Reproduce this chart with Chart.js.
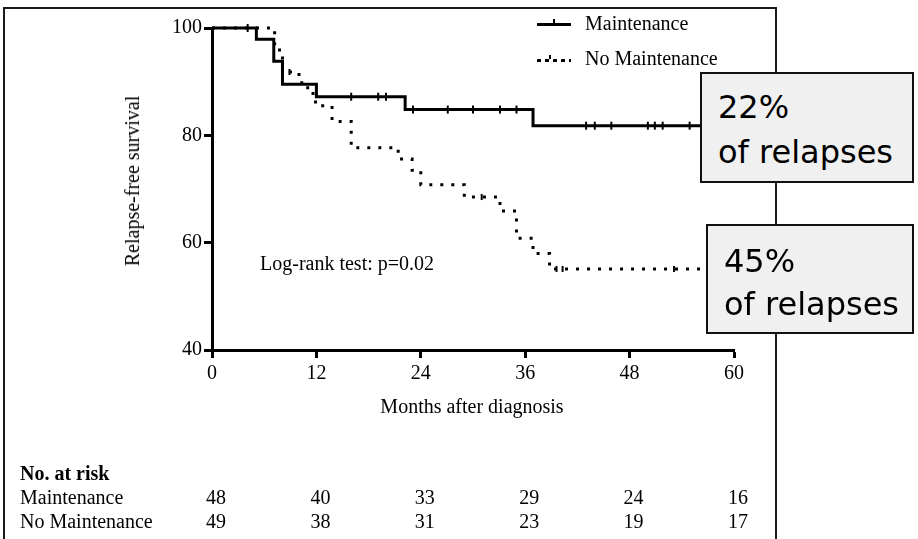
<!DOCTYPE html>
<html>
<head>
<meta charset="utf-8">
<script src="https://cdn.jsdelivr.net/npm/chart.js@4.4.1/dist/chart.umd.min.js"></script>
<style>
  body { margin: 0; background: #fff; }
  #wrap { position: relative; width: 918px; height: 539px; overflow: hidden; font-family: "Liberation Serif", "Times New Roman", serif; color: #000; }
  #wrap canvas { position: absolute; left: 0; top: 0; }
  .frame { position: absolute; left: 3px; top: 7px; width: 770px; height: 600px; border: 2px solid #1a1a1a; border-bottom: none; }
  .t { position: absolute; font-size: 20px; line-height: 20px; white-space: nowrap; }
  .num { position: absolute; font-size: 20px; line-height: 20px; width: 40px; margin-left: -20px; text-align: center; }
  .box { position: absolute; background: #f0f0f0; border: 2px solid #111; box-sizing: border-box; font-family: "DejaVu Sans", sans-serif; font-size: 32px; line-height: 32px; }
  .box span { position: absolute; left: 16px; white-space: nowrap; }
  .leg { position: absolute; height: 3px; }
</style>
</head>
<body>
<div id="wrap">
  <div class="frame"></div>
  <canvas id="kmChart" width="918" height="539"></canvas>

  <!-- legend -->
  <div class="leg" style="left:537px; top:22.5px; width:34px; background:#000;"></div>
  <div class="leg" style="left:553px; top:19px; width:2px; height:4px; background:#000;"></div>
  <div class="leg" style="left:537px; top:58.5px; width:34px; background:repeating-linear-gradient(90deg,#000 0 4px,transparent 4px 8px);"></div>
  <div class="leg" style="left:549px; top:55px; width:2px; height:4px; background:#000;"></div>
  <div class="t" style="left:585px; top:13.3px;">Maintenance</div>
  <div class="t" style="left:585px; top:48.3px;">No Maintenance</div>

  <div class="t" style="left:260px; top:253.3px;">Log-rank test: p=0.02</div>
  <div class="t" style="left:372px; top:396.3px; width:200px; text-align:center;">Months after diagnosis</div>
  <div class="t" style="left:131.8px; top:180.5px; transform:translate(-50%,-50%) rotate(-90deg);">Relapse-free survival</div>

  <!-- number at risk -->
  <div class="t" style="left:20px; top:463.3px; font-weight:bold;">No. at risk</div>
  <div class="t" style="left:20px; top:487.3px;">Maintenance</div>
  <div class="t" style="left:20px; top:511.3px;">No Maintenance</div>
  <div id="riskNums"></div>

  <!-- annotation boxes -->
  <div class="box" style="left:700px; top:72px; width:214px; height:111px;">
    <span style="top:17.2px;">22%</span>
    <span style="top:62.2px;">of relapses</span>
  </div>
  <div class="box" style="left:706px; top:224px; width:208px; height:110px;">
    <span style="top:18.6px;">45%</span>
    <span style="top:62px;">of relapses</span>
  </div>
</div>

<script>
// ---- data ----
const maintTime = [0, 5.1, 7.1, 8.1, 12.0, 22.2, 36.9, 60];
const maintSurv = [100, 97.9, 93.8, 89.5, 87.2, 84.8, 81.8, 81.8];

const noMaintTime = [0, 7.2, 8.1, 10.0, 11.0, 11.9, 13.8, 16.0, 21.4, 23.0, 24.0, 29.0, 33.1, 35.0, 36.9, 38.8, 60];
const noMaintSurv = [100, 95.9, 91.8, 89.8, 87.8, 85.5, 82.6, 77.7, 75.6, 73.5, 70.8, 68.5, 65.9, 60.8, 58.0, 55.1, 55.1];

// censored observations (tick marks)
const maintCensTime = [4.1, 16.0, 19.1, 20.0, 23.1, 27.1, 30.0, 33.1, 35.0, 43.0, 44.0, 45.9, 50.1, 50.9, 51.8, 54.9];
const maintCensSurv = [100, 87.2, 87.2, 87.2, 84.8, 84.8, 84.8, 84.8, 84.8, 81.8, 81.8, 81.8, 81.8, 81.8, 81.8, 81.8];
const noMaintCensTime = [8.9, 31.0, 39.6, 40.3, 53.1];
const noMaintCensSurv = [91.8, 68.5, 55.1, 55.1, 55.1];

// number at risk table
const riskTimes = [0, 12, 24, 36, 48, 60];
const riskMaint = [48, 40, 33, 29, 24, 16];
const riskNoMaint = [49, 38, 31, 23, 19, 17];

const xTicks = [0, 12, 24, 36, 48, 60];
const yTicks = [40, 60, 80, 100];

const toPts = (xs, ys) => xs.map((x, i) => ({ x, y: ys[i] }));
const tickFont = { family: 'Liberation Serif', size: 20 };

const chart = new Chart(document.getElementById('kmChart'), {
  type: 'scatter',
  data: {
    datasets: [
      {
        label: 'Maintenance',
        data: toPts(maintTime, maintSurv),
        showLine: true,
        stepped: 'before',
        borderColor: '#000',
        borderWidth: 3,
        pointRadius: 0,
        clip: false,
      },
      {
        label: 'No Maintenance',
        data: toPts(noMaintTime, noMaintSurv),
        showLine: true,
        stepped: 'before',
        borderColor: '#000',
        borderWidth: 3,
        borderDash: [3, 8],
        pointRadius: 0,
        clip: false,
      },
      {
        label: 'Maintenance censored',
        data: toPts(maintCensTime, maintCensSurv),
        showLine: false,
        pointStyle: 'line',
        rotation: 90,
        pointRadius: 4,
        borderColor: '#000',
        pointBorderWidth: 2,
        clip: false,
      },
      {
        label: 'No Maintenance censored',
        data: toPts(noMaintCensTime, noMaintCensSurv),
        showLine: false,
        pointStyle: 'line',
        rotation: 90,
        pointRadius: 3,
        borderColor: '#000',
        pointBorderWidth: 2,
        clip: false,
      },
    ],
  },
  options: {
    responsive: false,
    animation: false,
    events: [],
    layout: { padding: { top: 28, right: 184, left: 0, bottom: 0 } },
    plugins: { legend: { display: false }, tooltip: { enabled: false } },
    scales: {
      x: {
        type: 'linear',
        min: 0,
        max: 60,
        afterBuildTicks: s => { s.ticks = xTicks.map(v => ({ value: v })); },
        afterFit: s => { s.height = 189; },
        ticks: { color: '#000', font: tickFont, padding: 4, maxRotation: 0 },
        grid: { drawOnChartArea: false, tickLength: 8, tickWidth: 3, tickColor: '#000' },
        border: { color: '#000', width: 3 },
      },
      y: {
        min: 40,
        max: 100,
        afterBuildTicks: s => { s.ticks = yTicks.map(v => ({ value: v })); },
        afterFit: s => { s.width = 212; },
        ticks: { color: '#000', font: tickFont, padding: 2 },
        grid: { drawOnChartArea: false, tickLength: 8, tickWidth: 3, tickColor: '#000' },
        border: { color: '#000', width: 3 },
      },
    },
  },
});

// place the at-risk numbers under the matching months
const risk = document.getElementById('riskNums');
riskTimes.forEach((t, i) => {
  const x = chart.scales.x.getPixelForValue(t) + 4;
  [[riskMaint[i], 487.3], [riskNoMaint[i], 511.3]].forEach(([n, top]) => {
    const d = document.createElement('div');
    d.className = 'num';
    d.style.left = x + 'px';
    d.style.top = top + 'px';
    d.textContent = n;
    risk.appendChild(d);
  });
});
</script>
</body>
</html>
